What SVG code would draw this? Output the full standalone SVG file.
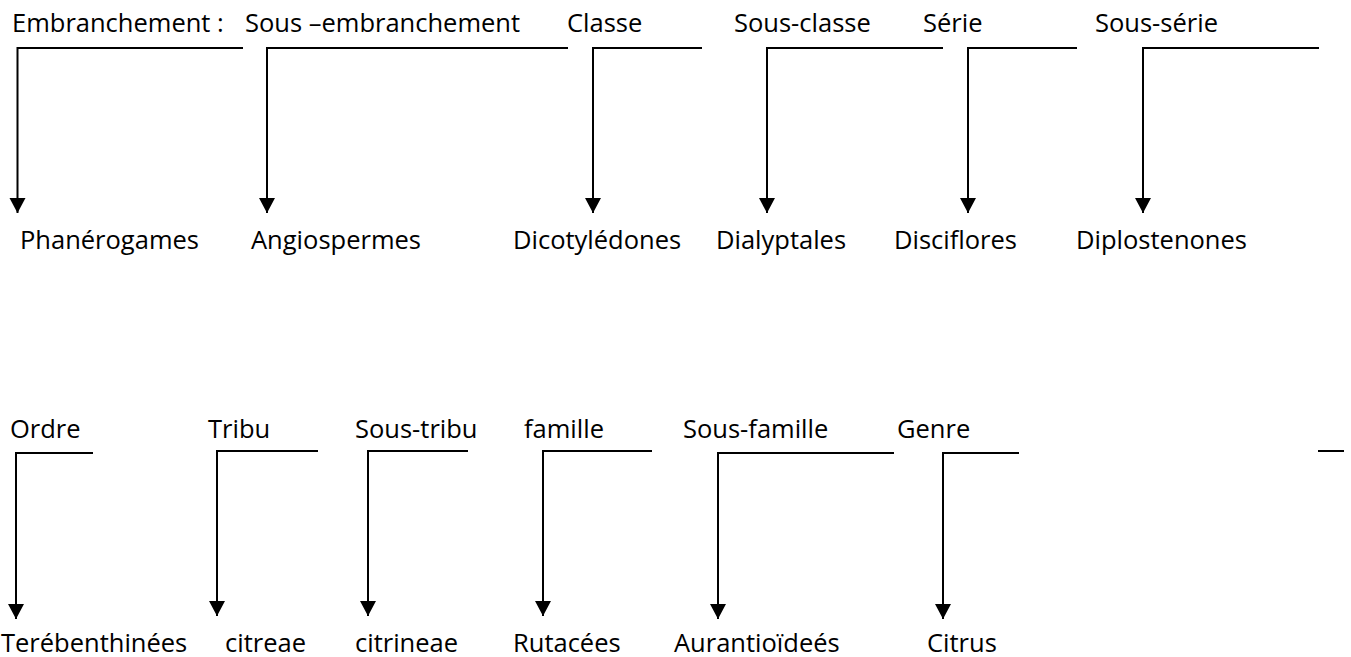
<svg xmlns="http://www.w3.org/2000/svg" width="1351" height="657" viewBox="0 0 1351 657">
<style>
  text { font-family: "Open Sans", "Liberation Sans", sans-serif; font-size: 25.5px; fill: #000; }
  .c { fill: none; stroke: #000; stroke-width: 2; }
</style>
<defs>
  <marker id="ah" markerUnits="userSpaceOnUse" markerWidth="18" markerHeight="18" refX="15" refY="8" orient="auto">
    <path d="M0,0 L15,8 L0,16 z" fill="#000"/>
  </marker>
</defs>
<rect width="1351" height="657" fill="#fff"/>
<g id="connectors">
  <path class="c" d="M243,48 H17.5 V213" marker-end="url(#ah)"/>
  <path class="c" d="M568,48 H267 V213" marker-end="url(#ah)"/>
  <path class="c" d="M702,48 H593 V213" marker-end="url(#ah)"/>
  <path class="c" d="M943,48 H767 V213" marker-end="url(#ah)"/>
  <path class="c" d="M1077,48 H968 V213" marker-end="url(#ah)"/>
  <path class="c" d="M1319,48 H1143 V213" marker-end="url(#ah)"/>
  <path class="c" d="M93,453 H16 V619" marker-end="url(#ah)"/>
  <path class="c" d="M318,451 H217 V616" marker-end="url(#ah)"/>
  <path class="c" d="M468,451 H368 V616" marker-end="url(#ah)"/>
  <path class="c" d="M652,451 H543 V616" marker-end="url(#ah)"/>
  <path class="c" d="M894,453 H718 V619" marker-end="url(#ah)"/>
  <path class="c" d="M1019,453 H943 V619" marker-end="url(#ah)"/>
  <path class="c" d="M1318,451 H1344"/>
</g>
<g id="n-embranchement"><text x="12" y="32">Embranchement :</text><text x="20" y="249">Phanérogames</text></g>
<g id="n-sous-embranchement"><text x="245" y="32">Sous –embranchement</text><text x="251" y="249">Angiospermes</text></g>
<g id="n-classe"><text x="567" y="32">Classe</text><text x="513" y="249">Dicotylédones</text></g>
<g id="n-sous-classe"><text x="734" y="32">Sous-classe</text><text x="716" y="249">Dialyptales</text></g>
<g id="n-serie"><text x="923" y="32">Série</text><text x="894" y="249">Disciflores</text></g>
<g id="n-sous-serie"><text x="1095" y="32">Sous-série</text><text x="1076" y="249">Diplostenones</text></g>
<g id="n-ordre"><text x="10" y="438">Ordre</text><text x="1" y="652">Terébenthinées</text></g>
<g id="n-tribu"><text x="208" y="438">Tribu</text><text x="225" y="652">citreae</text></g>
<g id="n-sous-tribu"><text x="355" y="438">Sous-tribu</text><text x="355" y="652">citrineae</text></g>
<g id="n-famille"><text x="524" y="438">famille</text><text x="513" y="652">Rutacées</text></g>
<g id="n-sous-famille"><text x="683" y="438">Sous-famille</text><text x="674" y="652">Aurantioïdeés</text></g>
<g id="n-genre"><text x="897" y="438">Genre</text><text x="927" y="652">Citrus</text></g>
</svg>
